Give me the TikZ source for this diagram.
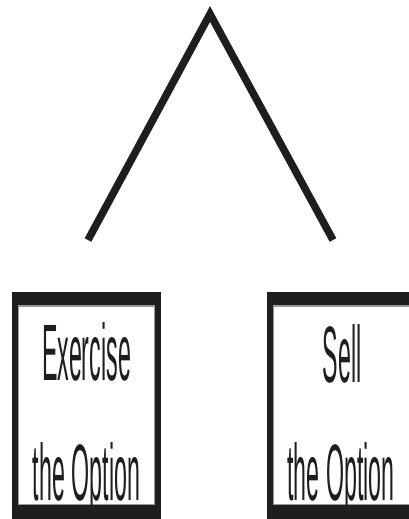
\documentclass[tikz,border=0pt]{standalone}
\usepackage{fontspec}
\setmainfont{Liberation Sans}
\definecolor{ink}{HTML}{1E1E1E}
\definecolor{edgegray}{HTML}{9A9A9A}
\tikzset{
  vline/.style={draw=ink, line width=7.5pt, line join=miter, line cap=butt},
  boxouter/.style={fill=ink, draw=none},
  boxinner/.style={fill=white, draw=edgegray, line width=1.5pt},
  lbl/.style={font=\fontsize{80}{96}\selectfont, text=ink, xscale=0.29, anchor=base, inner sep=0pt}
}
\begin{document}
\begin{tikzpicture}[x=1pt,y=-1pt]
\useasboundingbox[fill=white] (0,0) rectangle (409,519);
% V shape
\coordinate (apex) at (210,14);
\coordinate (lend) at (88,240);
\coordinate (rend) at (333,240);
\draw[vline] (lend) -- (apex) -- (rend);
% left box
\fill[boxouter] (12,292) rectangle (161,519);
\filldraw[boxinner] (18.5,306) rectangle (154.5,504.5);
\node[lbl] (ex) at (86.5,380) {Exercise};
\node[lbl] (exo) at (86.5,500) {the Option};
% right box
\fill[boxouter] (267,292) rectangle (412,519);
\filldraw[boxinner] (273.5,306) rectangle (420,504.5);
\node[lbl] (sell) at (342,382) {Sell};
\node[lbl] (sello) at (341,500) {the Option};
\end{tikzpicture}
\end{document}
